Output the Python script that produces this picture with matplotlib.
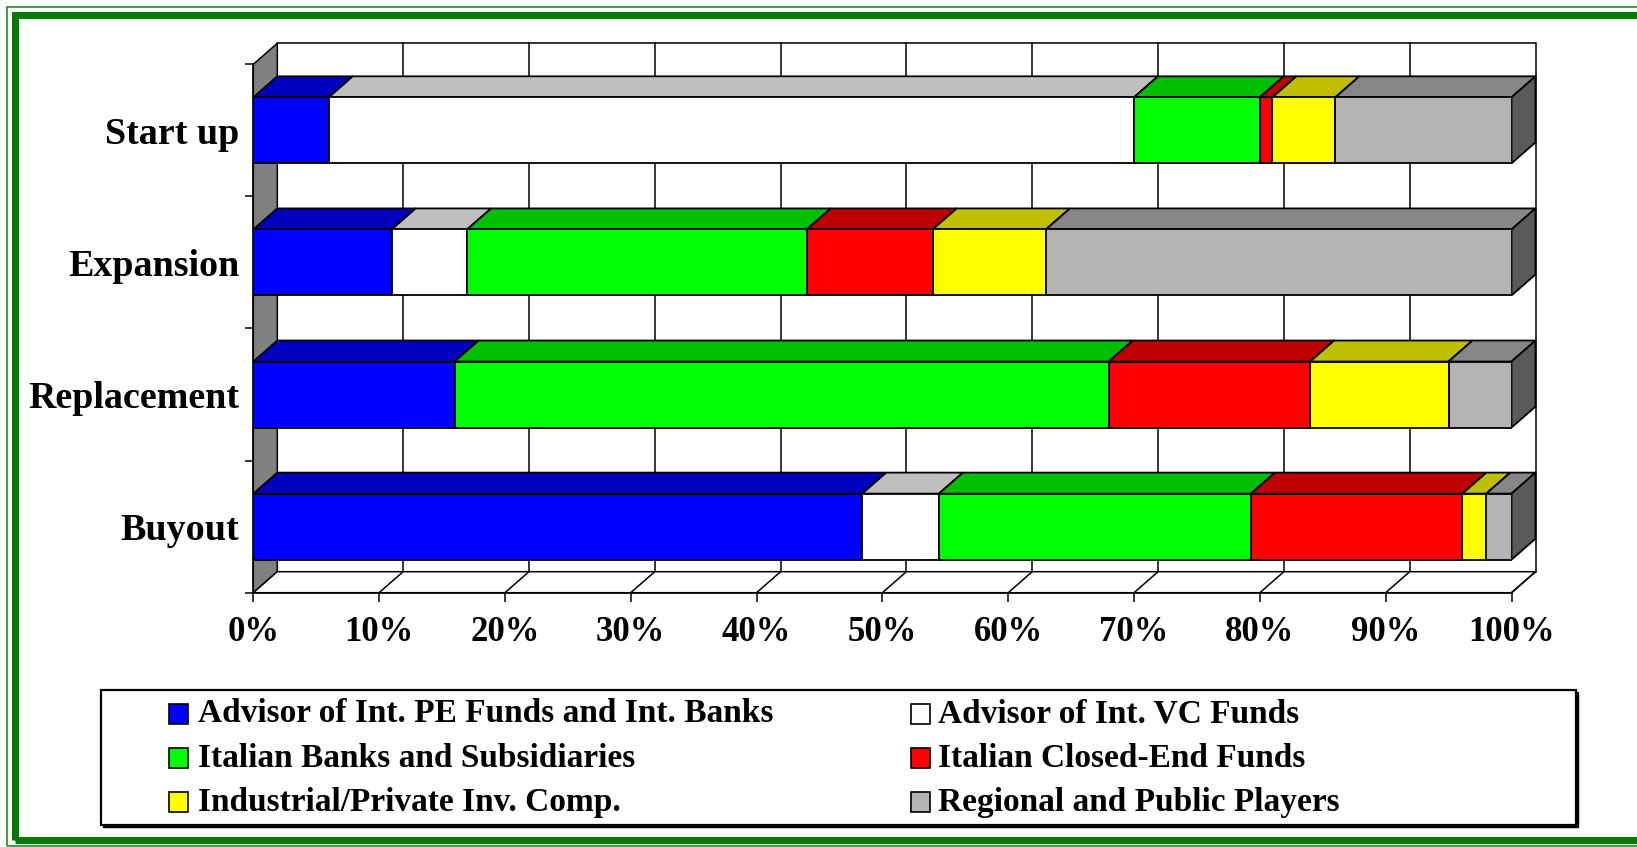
import matplotlib
matplotlib.use('Agg')
import matplotlib.pyplot as plt
from matplotlib.patches import Polygon, Rectangle
from matplotlib.colors import to_rgb
import numpy as np

plt.rcParams['font.family'] = ['Liberation Serif', 'DejaVu Serif']
plt.rcParams['font.weight'] = 'bold'

W, H = 1637, 847

# ---- data (shares in %, bottom to top) ----
categories = ['Buyout', 'Replacement', 'Expansion', 'Start up']
series = ['Advisor of Int. PE Funds and Int. Banks', 'Advisor of Int. VC Funds',
          'Italian Banks and Subsidiaries', 'Italian Closed-End Funds',
          'Industrial/Private Inv. Comp.', 'Regional and Public Players']
advisor_pe = [48.4, 16, 11, 6]
advisor_vc = [6.1, 0, 6, 64]
italian_banks = [24.8, 52, 27, 10]
closed_end = [16.8, 16, 10, 1]
industrial = [1.9, 11, 9, 5]
regional = [2.0, 5, 37, 14]
values = [advisor_pe, advisor_vc, italian_banks, closed_end, industrial, regional]
colors = ['#0000FF', '#FFFFFF', '#00FF00', '#FF0000', '#FFFF00', '#B3B3B3']
xticks = np.arange(0, 101, 10)


def shade(c, f):
    return tuple(v * f for v in to_rgb(c))


fig = plt.figure(figsize=(W / 100, H / 100), dpi=100)
fig.patch.set_facecolor('white')

# axes = front plane of the 3D box
x0, x1, ytop, ybot = 253.3, 1511.5, 64.3, 592.7
ax = fig.add_axes([x0 / W, 1 - ybot / H, (x1 - x0) / W, (ybot - ytop) / H])
ax.set_xlim(0, 100)
ax.set_ylim(-0.5, 3.5)
ax.set_facecolor('none')

dx = 24 / ((x1 - x0) / 100)     # depth offset in x units
dy = 21 / ((ybot - ytop) / 4)   # depth offset in y units
lw = 1.1
y_lo, y_hi = -0.5, 3.5

# back wall
ax.add_patch(Rectangle((dx, y_lo + dy), 100, y_hi - y_lo, facecolor='white',
                       edgecolor='black', lw=lw, zorder=1, clip_on=False))
for t in xticks[1:-1]:
    ax.plot([t + dx, t + dx], [y_lo + dy, y_hi + dy], color='black', lw=lw,
            zorder=1.1, clip_on=False)
# left wall
ax.add_patch(Polygon([(0, y_lo), (dx, y_lo + dy), (dx, y_hi + dy), (0, y_hi)],
                     facecolor='#808080', edgecolor='black', lw=lw, zorder=1.2,
                     clip_on=False))
# floor
ax.add_patch(Polygon([(0, y_lo), (100, y_lo), (100 + dx, y_lo + dy), (dx, y_lo + dy)],
                     facecolor='white', edgecolor='black', lw=lw, zorder=1.2,
                     clip_on=False))
for t in xticks[1:]:
    ax.plot([t, t + dx], [y_lo, y_lo + dy], color='black', lw=lw, zorder=1.3,
            clip_on=False)

# stacked 3D bars
ypos = np.arange(len(categories))
bh = 0.5
left = np.zeros(len(categories))
for j, (vals, col) in enumerate(zip(values, colors)):
    vals = np.array(vals, dtype=float)
    z = 3 + j * 0.1
    ax.barh(ypos, vals, left=left, height=bh, color=col, edgecolor='black',
            lw=1.3, zorder=z + 0.02)
    for y, l, w in zip(ypos, left, vals):
        if w <= 0:
            continue
        top = [(l, y + bh / 2), (l + w, y + bh / 2),
               (l + w + dx, y + bh / 2 + dy), (l + dx, y + bh / 2 + dy)]
        side = [(l + w, y - bh / 2), (l + w + dx, y - bh / 2 + dy),
                (l + w + dx, y + bh / 2 + dy), (l + w, y + bh / 2)]
        ax.add_patch(Polygon(top, facecolor=shade(col, 0.75), edgecolor='black',
                             lw=1.3, zorder=z, clip_on=False))
        ax.add_patch(Polygon(side, facecolor=shade(col, 0.5), edgecolor='black',
                             lw=1.3, zorder=z + 0.01, clip_on=False))
    left += vals

# axes, ticks, labels
for s in ['top', 'right']:
    ax.spines[s].set_visible(False)
for s in ['bottom', 'left']:
    ax.spines[s].set_linewidth(lw)
    ax.spines[s].set_zorder(1.4)
ax.set_xticks(xticks)
ax.set_xticklabels([f'{t}%' for t in xticks], fontsize=25, fontweight='bold')
ax.tick_params(axis='x', direction='out', length=6.5, width=lw, pad=10)
ax.set_yticks(ypos)
ax.set_yticklabels(categories, fontsize=27.4, fontweight='bold')
ax.set_yticks(np.arange(-0.5, 3.6, 1), minor=True)
ax.tick_params(axis='y', which='major', length=0, pad=10)
ax.tick_params(axis='y', which='minor', direction='out', length=6, width=lw)

# legend box drawn by hand (with a slight shadow on bottom/right)
fig.add_artist(Rectangle((103 / W, 1 - 827 / H), (1576 - 101) / W, (825 - 690) / H,
                         transform=fig.transFigure, facecolor='black',
                         edgecolor='black', lw=1.0))
fig.add_artist(Rectangle((101 / W, 1 - 825 / H), (1576 - 101) / W, (825 - 690) / H,
                         transform=fig.transFigure, facecolor='white',
                         edgecolor='black', lw=1.6))
key_x = [169, 911]
text_x = [198, 938]
rows = [714, 758, 802]
for k, (name, col) in enumerate(zip(series, colors)):
    c, r = k % 2, k // 2
    fig.add_artist(Rectangle((key_x[c] / W, 1 - (rows[r] + 10) / H), 19 / W, 20 / H,
                             transform=fig.transFigure, facecolor=col,
                             edgecolor='black', lw=1.2))
    fig.text(text_x[c] / W, 1 - rows[r] / H, name, fontsize=24, fontweight='bold',
             ha='left', va='center')

# green double border
fig.add_artist(Rectangle((6.7 / W, 1 - 846 / H), 1700 / W, (846 - 6.7) / H,
                         transform=fig.transFigure, fill=False,
                         edgecolor='#1E8C1E', lw=1.2))
fig.add_artist(Rectangle((15 / W, 1 - 840 / H), 1700 / W, (840 - 15.5) / H,
                         transform=fig.transFigure, fill=False,
                         edgecolor='#007A00', lw=5))

fig.savefig('out.png', dpi=100, facecolor='white')
